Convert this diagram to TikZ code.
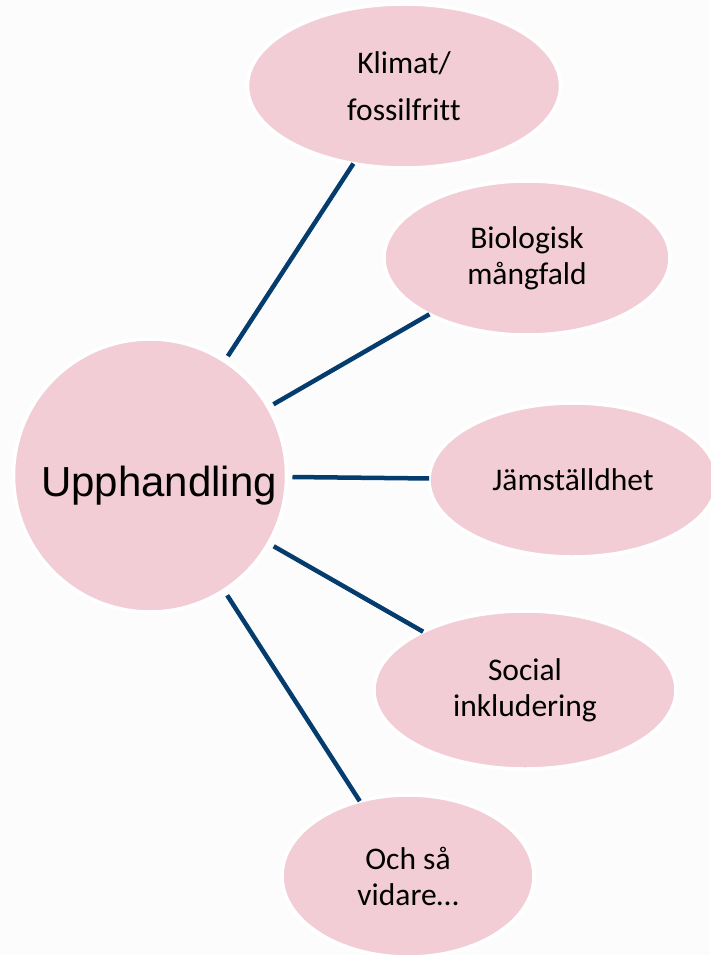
\documentclass[tikz,border=0pt]{standalone}
\usepackage{fontspec}
\setmainfont[Ligatures=NoCommon]{Carlito}
\newfontfamily\arialfont{Liberation Sans}
\usetikzlibrary{shapes.geometric}
\definecolor{bubblepink}{RGB}{242,205,214}
\definecolor{linknavy}{RGB}{5,60,110}
\definecolor{bgcol}{RGB}{252,252,252}
\begin{document}
\begin{tikzpicture}[x=1pt,y=-1pt,
  bubble/.style={ellipse, fill=bubblepink, draw=white, line width=3.5pt,
    inner sep=0pt, outer sep=0pt, align=center,
    font=\fontsize{31.5}{36}\selectfont},
  hubstyle/.style={circle, fill=bubblepink, draw=white, line width=3.5pt,
    inner sep=0pt, outer sep=0pt},
  link/.style={draw=linknavy, line width=4.5pt, shorten <=6pt, shorten >=0pt}]
\fill[bgcol] (0,0) rectangle (710,955);
\useasboundingbox (0,0) rectangle (710,955);
% nodes
\node[hubstyle, minimum size=273pt] (hub) at (150,475.5) {};
\node[font=\arialfont\fontsize{42}{48}\selectfont, inner sep=0pt] (hublabel) at (159,486) {Upphandling};
\node[bubble, minimum width=313pt, minimum height=164pt] (e1) at (404,86) {Klimat/\\[11pt]fossilfrit\kern0pt t};
\node[bubble, minimum width=286pt, minimum height=154pt] (e2) at (527,258) {Biologisk\\mångfald};
\node[bubble, minimum width=288pt, minimum height=154pt] (e3) at (573,480) {Jämställdhet};
\node[bubble, minimum width=302pt, minimum height=158pt] (e4) at (525,690) {Social\\inkludering};
\node[bubble, minimum width=252pt, minimum height=162pt] (e5) at (408,876) {Och så\\vidare…};
% connectors
\draw[link] (hub) -- (e1);
\draw[link] (hub) -- (e2);
\draw[link] (hub) -- (e3);
\draw[link] (hub) -- (e4);
\draw[link] (hub) -- (e5);
\end{tikzpicture}
\end{document}
